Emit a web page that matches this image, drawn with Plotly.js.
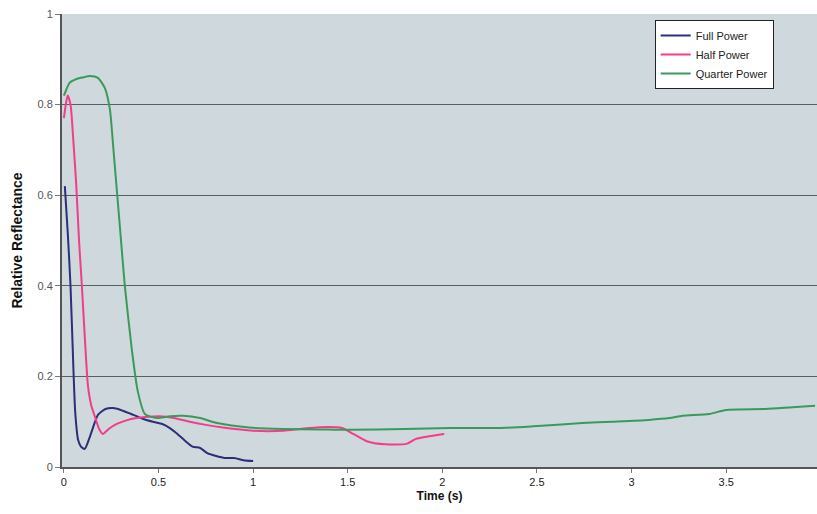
<!DOCTYPE html>
<html>
<head>
<meta charset="utf-8">
<script src="https://cdn.plot.ly/plotly-3.0.1.min.js"></script>
<style>html,body{margin:0;padding:0;background:#fff;}#chart{width:817px;height:514px;}</style>
</head>
<body>
<div id="chart"></div>
<script>
// Full Power
const fullX = [0.005, 0.02, 0.035, 0.05, 0.06, 0.075, 0.09, 0.11, 0.14, 0.18, 0.22, 0.26, 0.3, 0.35, 0.42, 0.47, 0.52, 0.56, 0.6, 0.64, 0.68, 0.72, 0.76, 0.8, 0.85, 0.9, 0.95, 1.0];
const fullY = [0.62, 0.52, 0.40, 0.22, 0.12, 0.06, 0.045, 0.04, 0.07, 0.115, 0.128, 0.13, 0.126, 0.118, 0.106, 0.1, 0.095, 0.086, 0.073, 0.058, 0.045, 0.042, 0.03, 0.025, 0.02, 0.02, 0.015, 0.013];
// Half Power
const halfX = [0.0, 0.01, 0.02, 0.035, 0.05, 0.065, 0.08, 0.095, 0.11, 0.127, 0.145, 0.165, 0.185, 0.206, 0.24, 0.28, 0.33, 0.385, 0.45, 0.507, 0.58, 0.665, 0.75, 0.84, 1.0, 1.16, 1.25, 1.35, 1.47, 1.53, 1.6, 1.7, 1.81, 1.86, 1.93, 2.01];
const halfY = [0.77, 0.80, 0.82, 0.80, 0.72, 0.625, 0.50, 0.40, 0.29, 0.18, 0.135, 0.11, 0.085, 0.073, 0.085, 0.095, 0.103, 0.108, 0.111, 0.112, 0.108, 0.10, 0.093, 0.087, 0.08, 0.08, 0.084, 0.088, 0.086, 0.073, 0.057, 0.05, 0.051, 0.062, 0.068, 0.073];
// Quarter Power
const quarterX = [0.0, 0.01, 0.03, 0.07, 0.1, 0.137, 0.18, 0.216, 0.243, 0.262, 0.28, 0.3, 0.322, 0.36, 0.39, 0.428, 0.49, 0.56, 0.63, 0.72, 0.81, 0.98, 1.16, 1.35, 1.51, 1.8, 2.04, 2.3, 2.48, 2.74, 2.9, 3.09, 3.2, 3.27, 3.41, 3.5, 3.71, 3.85, 3.97];
const quarterY = [0.82, 0.83, 0.848, 0.857, 0.86, 0.863, 0.859, 0.837, 0.79, 0.70, 0.61, 0.51, 0.40, 0.256, 0.168, 0.117, 0.108, 0.112, 0.113, 0.108, 0.097, 0.087, 0.084, 0.083, 0.082, 0.084, 0.086, 0.086, 0.09, 0.097, 0.1, 0.104, 0.108, 0.113, 0.117, 0.126, 0.128, 0.132, 0.135];

const xTicks = [0, 0.5, 1, 1.5, 2, 2.5, 3, 3.5];
const xTickText = ['0', '0.5', '1', '1.5', '2', '2.5', '3', '3.5'];
const yTicks = [0, 0.2, 0.4, 0.6, 0.8, 1];
const yTickText = ['0', '0.2', '0.4', '0.6', '0.8', '1'];

const traces = [
  {x: fullX, y: fullY, name: 'Full Power', mode: 'lines', line: {color: '#2b2f78', width: 2, shape: 'spline', smoothing: 0.6}},
  {x: halfX, y: halfY, name: 'Half Power', mode: 'lines', line: {color: '#f23d8a', width: 2, shape: 'spline', smoothing: 0.6}},
  {x: quarterX, y: quarterY, name: 'Quarter Power', mode: 'lines', line: {color: '#3a9a5c', width: 2, shape: 'spline', smoothing: 0.6}}
];

const layout = {
  width: 817, height: 514,
  margin: {l: 62, r: 0, t: 14, b: 47},
  paper_bgcolor: '#ffffff',
  plot_bgcolor: '#cfd8dc',
  font: {family: 'Liberation Sans, Arial, sans-serif', color: '#333', size: 11},
  showlegend: true,
  legend: {x: 0.785, y: 0.987, xanchor: 'left', yanchor: 'top', bgcolor: '#ffffff', bordercolor: '#222', borderwidth: 1,
           font: {size: 11, color: '#222'}, tracegroupgap: 0, itemwidth: 30},
  xaxis: {
    range: [-0.01, 3.98], tickvals: xTicks, ticktext: xTickText,
    showgrid: false, zeroline: false, showline: true, linecolor: '#555', linewidth: 2,
    ticks: 'outside', ticklen: 4, tickcolor: '#777',
    tickfont: {size: 11, color: '#222'},
    title: {text: '<b>Time (s)</b>', font: {size: 12, color: '#111', family: 'Liberation Sans, Arial, sans-serif'}, standoff: 4}
  },
  yaxis: {
    range: [0, 1], tickvals: yTicks, ticktext: yTickText,
    showgrid: true, gridcolor: '#5a5f62', gridwidth: 1.2,
    zeroline: false, showline: true, linecolor: '#555', linewidth: 2,
    ticks: 'outside', ticklen: 5, tickcolor: '#777',
    tickfont: {size: 11, color: '#555'},
    title: {text: '<b>Relative Reflectance</b>', font: {size: 14, color: '#111'}, standoff: 12}
  }
};

Plotly.newPlot('chart', traces, layout, {displayModeBar: false, staticPlot: true});
</script>
</body>
</html>
